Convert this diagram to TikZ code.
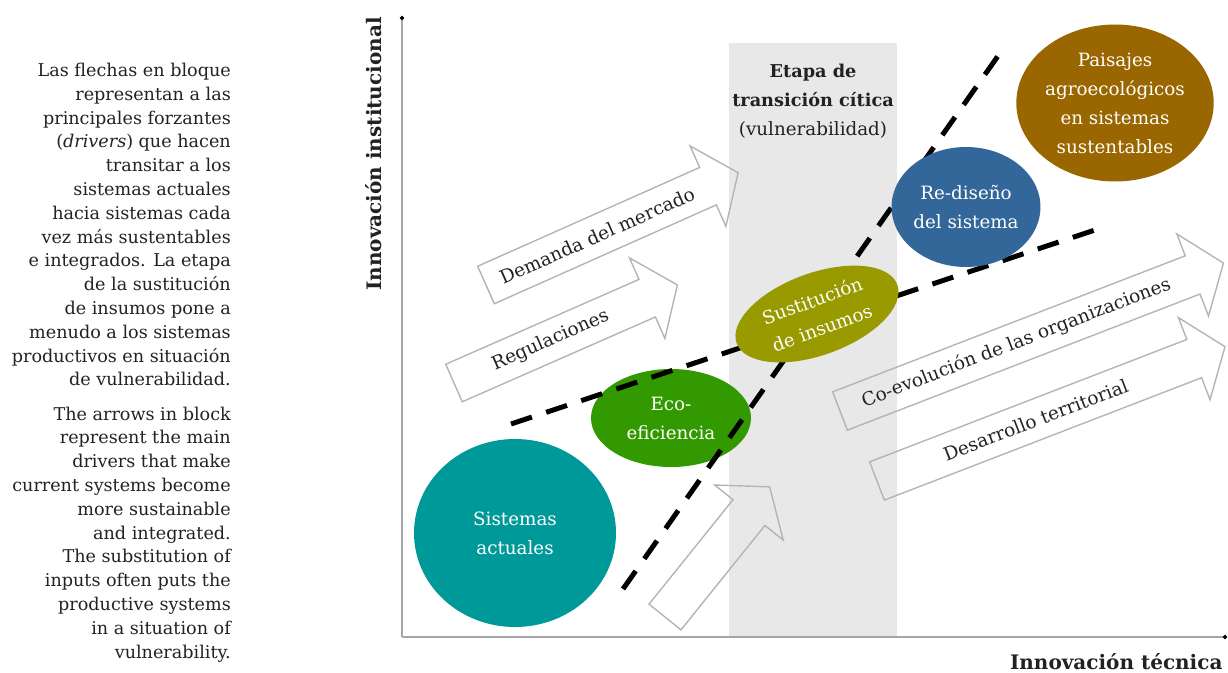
\documentclass[tikz,border=0pt]{standalone}
\usepackage{fontspec}
\setmainfont{DejaVu Serif}
\usetikzlibrary{positioning,shapes.geometric,arrows.meta}

\definecolor{colsist}{HTML}{009999}
\definecolor{coleco}{HTML}{339900}
\definecolor{colsust}{HTML}{999900}
\definecolor{colredis}{HTML}{336699}
\definecolor{colpais}{HTML}{996600}
\definecolor{bandgrey}{HTML}{E8E8E8}
\definecolor{arrowgrey}{HTML}{B4B4B4}
\definecolor{axisgrey}{HTML}{A6A6A6}
\definecolor{textgrey}{HTML}{222222}

\newcommand{\blockarrow}[5]{%
  \begin{scope}[shift={#2}, rotate=#3]
    \draw[bigarrow] (0,-20.5) -- ({#4-33},-20.5) -- ({#4-33},-44) -- (#4,0)
      -- ({#4-33},44) -- ({#4-33},20.5) -- (0,20.5) -- cycle;
    \node[arrowlabel, rotate=#3] (#1) at ({(#4-33)/2},0) {#5};
  \end{scope}}

\begin{document}
\begin{tikzpicture}[x=1pt, y=-1pt,
  oval/.style={ellipse, inner sep=0pt, align=center, text=white, font=\fontsize{18.3}{29}\selectfont},
  bigarrow/.style={draw=arrowgrey, line width=1.4pt, line join=miter},
  arrowlabel/.style={font=\fontsize{18.5}{20}\selectfont, text=textgrey, inner sep=0pt},
  dashline/.style={line width=5pt, dash pattern=on 22pt off 15pt},
  axisline/.style={draw=axisgrey, line width=2.5pt},
  axislabel/.style={font=\bfseries\fontsize{20}{22}\selectfont, text=textgrey},
  note/.style={align=right, text=textgrey, inner sep=0pt, font=\fontsize{17.6}{23.8}\selectfont}]
\useasboundingbox (0,0) rectangle (1228,672);

\node[note, anchor=north east] (es) at (231,63) {Las flechas en bloque\\representan a las\\principales forzantes\\(\textit{drivers}) que hacen\\transitar a los\\sistemas actuales\\hacia sistemas cada\\vez más sustentables\\e integrados. La etapa\\de la sustitución\\de insumos pone a\\menudo a los sistemas\\productivos en situación\\de vulnerabilidad.};
\node[note, below left=20pt and 0pt of es.south east] (en) {The arrows in block\\represent the main\\drivers that make\\current systems become\\more sustainable\\and integrated.\\The substitution of\\inputs often puts the\\productive systems\\in a situation of\\vulnerability.};

\fill[bandgrey] (729,43) rectangle (897,637);
\node[align=center, text=textgrey, font=\fontsize{18.3}{29}\selectfont] (etapa) at (813,101) {\textbf{\fontsize{17.7}{29}\selectfont Etapa de}\\\textbf{\fontsize{17.7}{29}\selectfont transición cítica}\\(vulnerabilidad)};

\coordinate (orig) at (402,637);
\coordinate (ytop) at (402,16);
\coordinate (xend) at (1227,637);
\draw[axisline, -{Circle[length=4pt, color=black]}] (orig) -- (ytop);
\draw[axisline, -{Circle[length=4pt, color=black]}] (orig) -- (xend);
\node[axislabel, rotate=90] (ylab) at (374,154) {Innovación institucional};
\node[axislabel, anchor=base east] (xlab) at (1226,669) {Innovación técnica};

\blockarrow{dem}{(486,285)}{24}{276}{Demanda del mercado}
\blockarrow{reg}{(454,383)}{23.7}{244}{Regulaciones}
\blockarrow{coevo}{(840,411)}{21.1}{411}{Co-evolución de las organizaciones}
\blockarrow{desa}{(877,481)}{21.1}{373}{Desarrollo territorial}
\blockarrow{imp}{(665,617)}{51.2}{167}{}

\node[oval, fill=colsist, minimum width=202pt, minimum height=188pt] (sist) at (515,533) {Sistemas\\actuales};
\node[oval, fill=coleco, minimum width=160pt, minimum height=98pt] (eco) at (671,418) {Eco-\\eficiencia};

\coordinate (d1a) at (623,589);
\coordinate (d1b) at (1005,46);
\coordinate (d2a) at (511,424);
\coordinate (d2b) at (1104,227);
\draw[dashline] (d1a) -- (d1b);
\draw[dashline] (d2a) -- (d2b);

\node[oval, fill=colsust, minimum width=171pt, minimum height=82pt, rotate=20] (sust) at (817,314) {Sustitución\\de insumos};
\node[oval, fill=colredis, minimum width=146pt, minimum height=120pt] (redis) at (966,207) {Re-diseño\\del sistema};
\node[oval, fill=colpais, minimum width=194pt, minimum height=157pt] (pais) at (1115,103) {Paisajes\\agroecológicos\\en sistemas\\sustentables};
\end{tikzpicture}
\end{document}
